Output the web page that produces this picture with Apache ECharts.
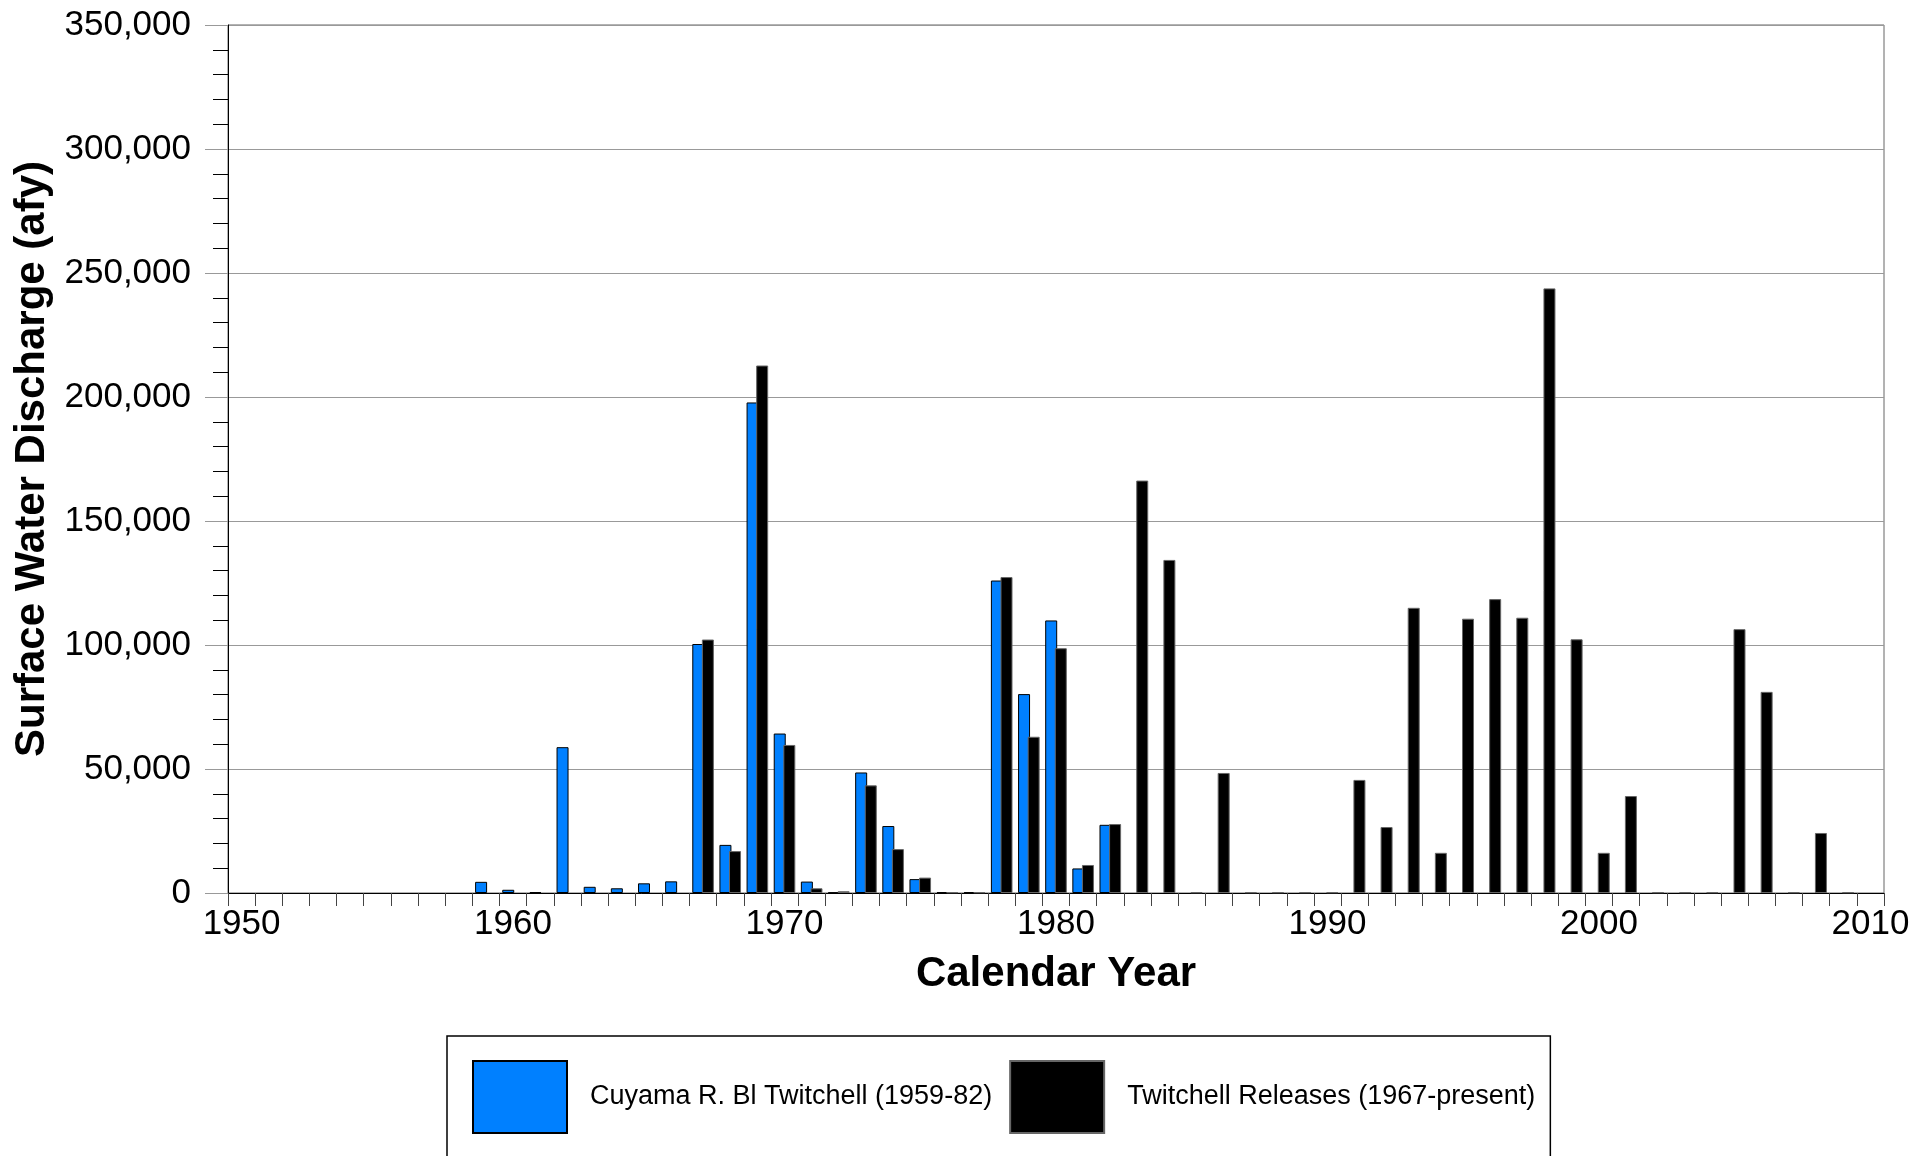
<!DOCTYPE html>
<html><head><meta charset="utf-8">
<script src="https://cdn.jsdelivr.net/npm/echarts@6/dist/echarts.min.js"></script>
<style>html,body{margin:0;padding:0;background:#fff}#c{width:1931px;height:1156px}</style>
</head><body><div id="c"></div>
<script>
const years = ['1950','1951','1952','1953','1954','1955','1956','1957','1958','1959',
  '1960','1961','1962','1963','1964','1965','1966','1967','1968','1969',
  '1970','1971','1972','1973','1974','1975','1976','1977','1978','1979',
  '1980','1981','1982','1983','1984','1985','1986','1987','1988','1989',
  '1990','1991','1992','1993','1994','1995','1996','1997','1998','1999',
  '2000','2001','2002','2003','2004','2005','2006','2007','2008','2009','2010'];
// Cuyama R. Bl Twitchell (1959-82), afy
const cuyama = [null,null,null,null,null,null,null,null,null,4500,
  1300,400,58800,2500,1900,3900,4700,100400,19400,197800,
  64300,4600,200,48600,27000,5600,300,300,126000,80200,
  109900,9900,27500,null,null,null,null,null,null,null,
  null,null,null,null,null,null,null,null,null,null,
  null,null,null,null,null,null,null,null,null,null,null];
// Twitchell Releases (1967-present), afy
const releases = [null,null,null,null,null,null,null,null,null,null,
  null,null,null,null,null,null,null,102200,16900,212700,
  59700,1900,700,43400,17700,6200,300,300,127400,63000,
  98700,11300,27800,166300,134300,300,48400,300,300,300,
  300,45600,26600,115000,16200,110600,118500,111000,243800,102300,
  16200,39100,300,300,300,106400,81100,300,24200,300,null];
const yTicks = [0,50000,100000,150000,200000,250000,300000,350000];
const seriesNames = ['Cuyama R. Bl Twitchell (1959-82)','Twitchell Releases (1967-present)'];

const FONT = '"Liberation Sans", Arial, sans-serif';
const chart = echarts.init(document.getElementById('c'));
chart.setOption({
  animation: false,
  backgroundColor: '#fff',
  textStyle: {fontFamily: FONT, color: '#000'},
  grid: {left: 228, right: 47, top: 25, bottom: 263, show: true, borderColor: '#666', borderWidth: 1},
  legend: {
    left: 447, top: 1036, orient: 'horizontal',
    itemWidth: 94, itemHeight: 72, itemGap: 17,
    padding: [24, 15, 40, 25],
    borderColor: '#000', borderWidth: 1.5,
    icon: 'rect',
    textStyle: {fontSize: 27, fontFamily: FONT, color: '#000', padding: [0, 0, 0, 18]},
    data: seriesNames
  },
  xAxis: {
    type: 'category', data: years, boundaryGap: true,
    name: 'Calendar Year', nameLocation: 'middle', nameGap: 60,
    nameTextStyle: {fontSize: 42, fontWeight: 'bold', fontFamily: FONT, color: '#000'},
    axisLine: {lineStyle: {color: '#000', width: 1}},
    axisTick: {show: true, interval: 0, length: 13, lineStyle: {color: '#444'}},
    axisLabel: {interval: 9, fontSize: 35, margin: 14, color: '#000', fontFamily: FONT},
    splitLine: {show: false}
  },
  yAxis: {
    type: 'value', min: yTicks[0], max: yTicks[yTicks.length - 1], interval: 50000,
    name: 'Surface Water Discharge (afy)', nameLocation: 'middle', nameGap: 166,
    nameTextStyle: {fontSize: 42, fontWeight: 'bold', fontFamily: FONT, color: '#000'},
    axisLine: {show: true, lineStyle: {color: '#000', width: 1}},
    axisTick: {show: true, length: 23, lineStyle: {color: '#999'}},
    minorTick: {show: true, splitNumber: 5, length: 15, lineStyle: {color: '#000'}},
    axisLabel: {fontSize: 35, margin: 37, color: '#000', fontFamily: FONT,
      formatter: v => v.toLocaleString('en-US')},
    splitLine: {show: true, lineStyle: {color: '#999', width: 1}}
  },
  series: [
    {name: seriesNames[0], type: 'bar', data: cuyama, barWidth: 12, barGap: '-20%',
      itemStyle: {color: '#0080FF', borderColor: '#000', borderWidth: 1}},
    {name: seriesNames[1], type: 'bar', data: releases, barWidth: 12,
      itemStyle: {color: '#000', borderColor: '#666', borderWidth: 1}}
  ]
});
</script></body></html>
